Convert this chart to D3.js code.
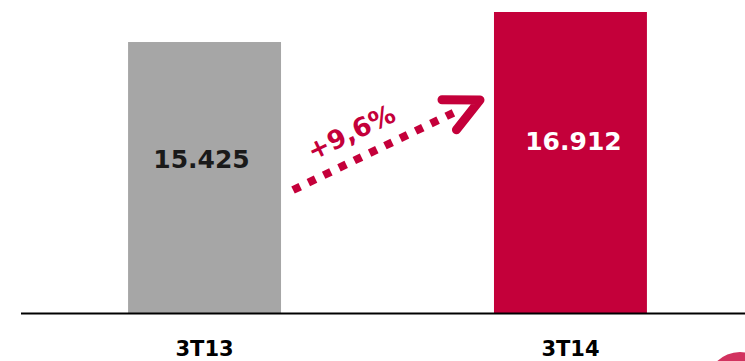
<!DOCTYPE html>
<html><head><meta charset="utf-8">
<script src="https://cdn.jsdelivr.net/npm/d3@7"></script>
<style>html,body{margin:0;padding:0;background:#fff;overflow:hidden}</style>
</head><body>
<svg id="chart" width="745" height="361"></svg>
<script>
const categories = ["3T13", "3T14"];
const values = [15425, 16912];
const valueLabels = ["15.425", "16.912"];
const growthLabel = "+9,6%";
const barColors = ["#a6a6a6", "#c4003a"];
const labelColors = ["#1a1a1a", "#ffffff"];
const yDomain = [2000, 16912];

const svg = d3.select("#chart");
const baseY = 313;
const x = d3.scaleBand().domain(categories).range([0, 775]).paddingInner(0.582).paddingOuter(0.35);
const y = d3.scaleLinear().domain(yDomain).range([baseY, 12]);
const font = "'DejaVu Sans', sans-serif";

// decorative circle bottom right
svg.append("circle").attr("cx", 740).attr("cy", 385).attr("r", 33).attr("fill", "#d2325f");

svg.selectAll("rect.bar").data(values).join("rect").attr("class","bar")
  .attr("x", (d,i) => x(categories[i]))
  .attr("width", x.bandwidth())
  .attr("y", d => y(d))
  .attr("height", d => baseY - y(d))
  .attr("fill", (d,i) => barColors[i]);

svg.selectAll("text.val").data(values).join("text").attr("class","val")
  .attr("x", (d,i) => x(categories[i]) + x.bandwidth()/2 + (i === 0 ? -3 : 3))
  .attr("y", d => y(d) + 0.43*(baseY - y(d)))
  .attr("dy", "0.36em")
  .attr("text-anchor", "middle")
  .attr("font-family", font).attr("font-weight", "bold").attr("font-size", 25)
  .attr("fill", (d,i) => labelColors[i])
  .text((d,i) => valueLabels[i]);

// axis
const axis = d3.axisBottom(x).tickSize(0).tickPadding(28);
const g = svg.append("g").attr("transform", `translate(0,${baseY})`).call(axis);
g.select(".domain").remove();
g.selectAll("text").attr("font-family", font).attr("font-weight", "bold").attr("font-size", 21).attr("fill", "#000");
svg.append("line").attr("x1", 21).attr("x2", 745).attr("y1", baseY + 0.5).attr("y2", baseY + 0.5)
  .attr("stroke", "#000").attr("stroke-width", 2);

// growth arrow
const red = "#c4003a";
const x0 = x(categories[0]) + x.bandwidth() + 12, y0 = 190;
const x1 = 480, y1 = 100;
const ang = Math.atan2(y1 - y0, x1 - x0);
const lineEndX = x1 - 22*Math.cos(ang), lineEndY = y1 - 22*Math.sin(ang);
svg.append("line").attr("x1", x0).attr("y1", y0).attr("x2", lineEndX).attr("y2", lineEndY)
  .attr("stroke", red).attr("stroke-width", 8).attr("stroke-dasharray", "8,9");
const armLen = 38, spread = 26 * Math.PI/180;
const back = ang + Math.PI;
const a1 = [x1 + armLen*Math.cos(back - spread), y1 + armLen*Math.sin(back - spread)];
const a2 = [x1 + armLen*Math.cos(back + spread), y1 + armLen*Math.sin(back + spread)];
svg.append("path").attr("d", `M${a1[0]},${a1[1]}L${x1},${y1}L${a2[0]},${a2[1]}`)
  .attr("fill", "none").attr("stroke", red).attr("stroke-width", 9)
  .attr("stroke-linejoin", "round").attr("stroke-linecap", "round");
svg.append("text").attr("transform", `translate(351,132) rotate(${ang*180/Math.PI})`)
  .attr("text-anchor", "middle").attr("dy", "0.36em")
  .attr("font-family", font).attr("font-weight", "bold").attr("font-size", 26)
  .attr("fill", red).text(growthLabel);
</script>
</body></html>
